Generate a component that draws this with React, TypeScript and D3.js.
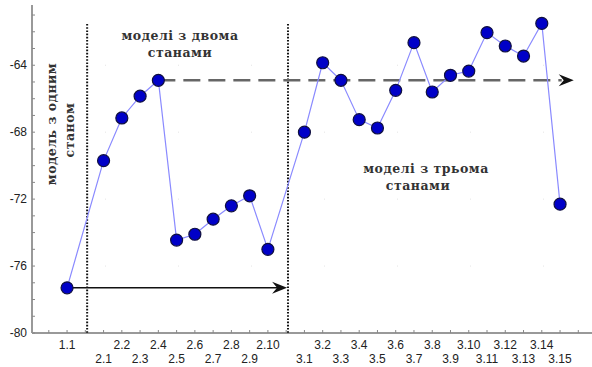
import React from 'react';
import * as d3 from 'd3';

// категорії моделей (група.номер)
const categories = [
  '1.1',
  '2.1', '2.2', '2.3', '2.4', '2.5', '2.6', '2.7', '2.8', '2.9', '2.10',
  '3.1', '3.2', '3.3', '3.4', '3.5', '3.6', '3.7', '3.8', '3.9', '3.10',
  '3.11', '3.12', '3.13', '3.14', '3.15',
];
const values = [
  -77.3,
  -69.7, -67.15, -65.85, -64.9, -74.45, -74.1, -73.2, -72.4, -71.8, -75.0,
  -68.0, -63.85, -64.9, -67.25, -67.75, -65.5, -62.65, -65.6, -64.6, -64.35,
  -62.05, -62.85, -63.45, -61.5, -72.3,
];
const yTicks = [-80, -76, -72, -68, -64];
// межі груп (в одиницях позиції)
const dividers = [1.1, 12.1];
const solidArrow = { from: '1.1', toPos: 12.05 };
const dashedArrow = { from: '2.4', toPos: 27.75 };

const W = 592;
const H = 367;

const App = () => {
  // позиції: між групами пропускаємо одне місце
  const positions: number[] = [];
  let pos = 0;
  categories.forEach((c, i) => {
    if (i > 0 && c.split('.')[0] !== categories[i - 1].split('.')[0]) pos += 1;
    positions.push(pos);
    pos += 1;
  });

  const x = d3.scaleLinear().domain([-1.92, 28.75]).range([32, 592]);
  const y = d3.scaleLinear().domain([-80, -60.4]).range([333, 5]);

  const pts = categories.map((c, i) => ({ c, p: positions[i], v: values[i] }));
  const line = d3.line<any>().x(d => x(d.p)).y(d => y(d.v));

  const minorY = d3.range(-80, -60, 1);
  const minorX = d3.range(-1, 29, 1);

  const find = (c: string) => pts.find(d => d.c === c)!;
  const sa = find(solidArrow.from);
  const da = find(dashedArrow.from);

  const head = (tx: number, ty: number) =>
    `M${tx},${ty} L${tx - 15},${ty - 6} L${tx - 10},${ty} L${tx - 15},${ty + 6} Z`;

  const annStyle = {
    fontFamily: '"DejaVu Serif", "Liberation Serif", serif',
    fontWeight: 700,
    fontSize: 12.5,
    fill: '#333',
    letterSpacing: 0.5,
  } as const;

  const tickStyle = { fontFamily: '"Liberation Sans", Arial, sans-serif', fontSize: 12, fill: '#222' };

  return (
    <svg width={W} height={H} style={{ position: 'absolute', left: 0, top: 0, background: '#fff' }}>
      {/* сітка */}
      {yTicks.map(t => (
        <line key={'g' + t} x1={32} x2={592} y1={y(t)} y2={y(t)} stroke="#e4e4e4" strokeWidth={1} strokeDasharray="1 72" />
      ))}

      {/* осі */}
      <line x1={32} x2={32} y1={5} y2={333} stroke="#999" strokeWidth={2} />
      <line x1={32} x2={592} y1={333} y2={333} stroke="#999" strokeWidth={2} />
      {minorY.map(t => (
        <line key={'my' + t} x1={32} x2={35} y1={y(t)} y2={y(t)} stroke="#888" strokeWidth={1} />
      ))}
      {minorX.map(t => (
        <line key={'mx' + t} x1={x(t)} x2={x(t)} y1={333} y2={330} stroke="#888" strokeWidth={1} />
      ))}
      {yTicks.map(t => (
        <text key={'yt' + t} x={27} y={y(t)} dy="0.35em" textAnchor="end" style={tickStyle}>
          {t}
        </text>
      ))}
      {pts.map((d, i) => (
        <text key={'xt' + d.c} x={x(d.p)} y={i % 2 === 0 ? 349 : 363} textAnchor="middle" style={tickStyle}>
          {d.c}
        </text>
      ))}

      {/* межі груп */}
      {dividers.map(p => (
        <line key={'d' + p} x1={x(p)} x2={x(p)} y1={24} y2={333} stroke="#111" strokeWidth={2} strokeDasharray="1.6 1.6" />
      ))}

      {/* стрілки */}
      <line x1={x(sa.p)} x2={x(solidArrow.toPos) - 10} y1={y(sa.v)} y2={y(sa.v)} stroke="#111" strokeWidth={1.5} />
      <path d={head(x(solidArrow.toPos), y(sa.v))} fill="#111" />
      <line x1={x(da.p)} x2={x(dashedArrow.toPos) - 12} y1={y(da.v)} y2={y(da.v)} stroke="#666" strokeWidth={2.5} strokeDasharray="17 8" />
      <path d={head(x(dashedArrow.toPos), y(da.v))} fill="#111" />

      {/* ряд даних */}
      <path d={line(pts) || ''} fill="none" stroke="#8a8aff" strokeWidth={1.2} />
      {pts.map(d => (
        <circle key={'p' + d.c} cx={x(d.p)} cy={y(d.v)} r={6} fill="#0000c8" stroke="#101040" strokeWidth={1.2} />
      ))}

      {/* підписи */}
      <text x={180} y={40} textAnchor="middle" style={annStyle}>моделі з двома</text>
      <text x={180} y={57} textAnchor="middle" style={annStyle}>станами</text>
      <g transform="translate(56,124) rotate(-90)">
        <text x={0} y={0} textAnchor="middle" style={annStyle}>модель з одним</text>
        <text x={-6} y={18} textAnchor="middle" style={annStyle}>станом</text>
      </g>
      <text x={426} y={173} textAnchor="middle" style={annStyle}>моделі з трьома</text>
      <text x={418} y={190} textAnchor="middle" style={annStyle}>станами</text>
    </svg>
  );
};

export default App;
